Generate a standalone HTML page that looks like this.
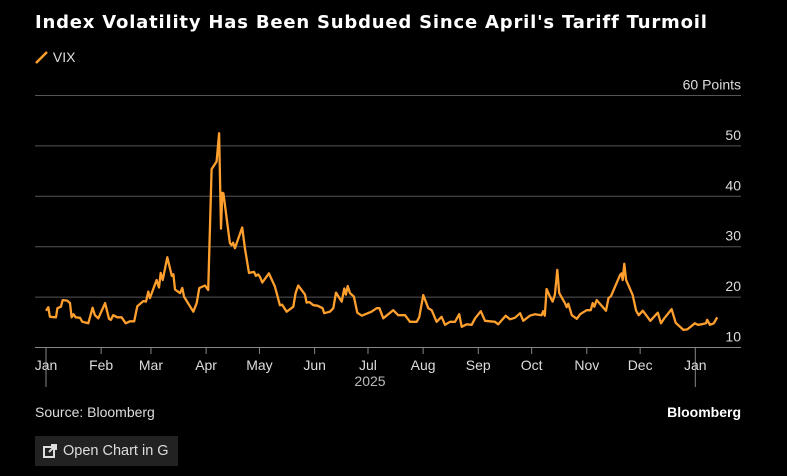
<!DOCTYPE html>
<html><head><meta charset="utf-8"><style>
html,body{margin:0;padding:0;background:#000;width:787px;height:476px;overflow:hidden;font-family:"Liberation Sans",sans-serif;color:#fff}
.t{position:absolute;white-space:nowrap}
</style></head><body>
<div class="t" style="left:35px;top:12px;font-size:18px;letter-spacing:0.8px;font-weight:bold;font-family:'DejaVu Sans',sans-serif">Index Volatility Has Been Subdued Since April's Tariff Turmoil</div>
<div class="t" style="left:35px;top:49px;font-size:14px;color:#ddd">
<svg width="14" height="14" style="vertical-align:-2px"><line x1="1" y1="13" x2="12" y2="2" stroke="#ff9f2e" stroke-width="2.5"/></svg> VIX</div>
<svg id="chart" width="787" height="476" style="position:absolute;left:0;top:0"></svg>
<div class="t" style="left:35px;top:404px;font-size:14px;color:#ddd">Source: Bloomberg</div>
<div class="t" style="right:46px;top:404px;font-size:14px;font-weight:bold">Bloomberg</div>
<div style="position:absolute;left:35px;top:436px;width:143px;height:30px;background:#222;font-size:14.5px;color:#ddd;line-height:30px">
<svg width="14" height="14" style="position:absolute;left:8px;top:8px"><rect x="1" y="3" width="10" height="10" fill="none" stroke="#ddd" stroke-width="2"/><path d="M6 8 L13 1 M8 1 H13 V6" stroke="#ddd" stroke-width="2" fill="none"/></svg>
<span style="position:absolute;left:28px">Open Chart in G</span></div>
<script>
const days=[0,1.3,2.2,5.6,6.4,8.4,9.4,12,13.5,14.4,15.4,16.7,19.1,20.4,23.8,26.2,27.5,29.4,33.2,35.4,36.5,37.8,40.1,42.5,44.8,47.2,49.6,51.3,54.7,56.2,57.5,58.4,62.2,63.5,64.5,65.6,68.2,70.7,71.6,72.5,75.3,76.6,77.6,82.8,84.7,86.2,89.4,91.2,93.1,95.9,97.3,98.4,99.1,99.7,103.4,104.3,105.2,106.2,110.3,111.8,114.1,116.9,118,119.3,120.3,121.6,125.3,128.7,131.5,132.8,135.3,139,140.3,141.8,145.6,146.5,148,150.3,152.6,155.5,156.4,159.6,161.5,163,166.2,167.7,168.6,169.6,170.9,173.1,175,177.5,183,185.9,187.4,189.6,195.2,198,201.8,204.6,208.4,209.8,212.1,214.9,216.8,219.6,222.4,224.3,227.1,229.9,232.3,233.7,236.5,239.3,241.2,244.4,246.8,252.4,254.2,258.4,260.8,263.6,266.5,268.3,272,274.9,278.6,279.5,280.4,281.4,282.9,284.8,286.1,287.4,288.5,291.7,292.7,293.6,295.6,298.4,300.3,303.9,306.2,307.3,308.2,309.6,314.8,316.2,317.6,322.7,323.5,324.2,325.1,326.1,329.8,331.7,333.2,335.5,339.7,343.9,345.7,347.6,351.7,354,358.3,360.5,364.8,366.3,368.6,371,371.7,373.2,375.4,377.3];
const vix=[17.3,18.0,16.1,16.0,17.8,18.1,19.4,19.3,18.8,16.0,16.6,16.0,15.9,15.1,14.8,17.9,16.4,15.8,18.8,15.7,15.5,16.4,16.0,16.0,14.8,15.2,15.2,18.2,19.2,19.1,21.1,19.8,23.4,21.9,24.8,23.4,27.9,24.2,24.5,21.5,20.8,21.8,20.1,17.1,18.8,21.8,22.3,21.4,45.4,46.9,52.5,33.6,40.7,40.6,30.7,30.3,30.8,29.7,33.8,29.7,24.8,25.0,24.2,24.5,24.0,22.9,24.7,22.1,18.4,18.5,17.1,18.1,20.8,22.3,20.5,18.9,19.0,18.4,18.3,17.8,16.8,17.1,17.8,20.9,19.1,21.7,20.5,22.2,20.8,20.1,16.9,16.3,17.1,17.8,17.8,15.8,17.4,16.4,16.4,15.1,15.1,16.0,20.4,17.8,17.4,15.1,16.1,14.5,15.1,15.1,16.6,14.1,14.6,14.5,15.8,17.2,15.3,15.1,14.6,16.3,15.6,15.9,16.8,15.3,16.3,16.6,16.4,17.2,16.3,21.6,20.4,19.1,20.5,25.4,20.8,18.8,18.0,18.7,16.4,15.7,16.6,17.4,17.4,18.8,18.1,19.4,17.3,19.8,20.2,24.4,24.7,23.4,26.6,23.4,20.4,17.3,16.4,17.3,15.3,16.9,14.8,15.8,17.6,14.9,13.5,13.6,14.8,14.5,14.6,14.8,15.5,14.5,14.8,16.0];
const yTicks=[10,20,30,40,50,60];
const months=["Jan","Feb","Mar","Apr","May","Jun","Jul","Aug","Sep","Oct","Nov","Dec","Jan"];
const monthDays=[0,31,59,90,120,151,181,212,243,273,304,334,365];
const NS="http://www.w3.org/2000/svg";
const svg=document.getElementById('chart');
const x=d=>46+d*1.7789;
const y=v=>347.5-(v-10)*5.04;
function mk(t,a){const e=document.createElementNS(NS,t);for(const k in a)e.setAttribute(k,a[k]);svg.appendChild(e);return e;}
yTicks.forEach(v=>{
  const l=mk('line',{x1:35,x2:741,y1:y(v),y2:y(v),stroke:v===10?'#888':'#555','stroke-width':1});
  
  
  const t=mk('text',{x:741,y:y(v)-6,'text-anchor':'end',fill:'#ddd','font-size':14,'font-family':'Liberation Sans, sans-serif'});
  t.textContent=v===60?'60 Points':String(v);
  
  
});
months.forEach((m,i)=>{
  const px=x(monthDays[i]);
  const big=m==='Jan';
  const tk=mk('line',{x1:px,x2:px,y1:348,y2:big?387:354,stroke:'#888','stroke-width':1});
  
  
  const t=mk('text',{x:px,y:370,'text-anchor':'middle',fill:'#ddd','font-size':14,'font-family':'Liberation Sans, sans-serif'});
  t.textContent=m;
  
  
});
const yr=mk('text',{x:370,y:386,'text-anchor':'middle',fill:'#bbb','font-size':14,'font-family':'Liberation Sans, sans-serif'});
yr.textContent='2025';


const pts=days.map((d,i)=>x(d).toFixed(1)+','+y(vix[i]).toFixed(1)).join(' ');
const pl=mk('polyline',{points:pts,fill:'none',stroke:'#ff9f2e','stroke-width':2.3,'stroke-linejoin':'round'});


</script>
</body></html>
